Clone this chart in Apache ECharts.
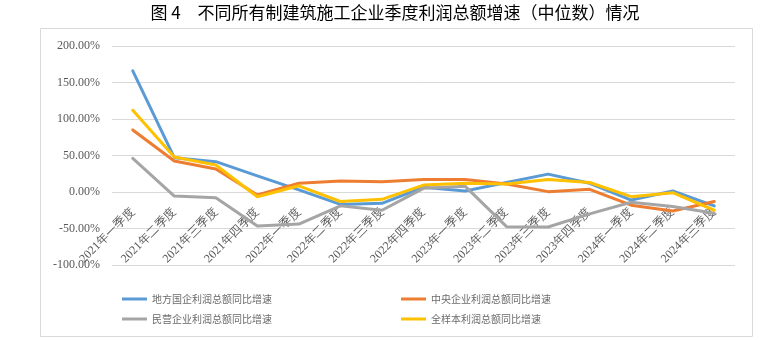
<!DOCTYPE html>
<html>
<head>
<meta charset="utf-8">
<script src="https://cdn.jsdelivr.net/npm/echarts@6/dist/echarts.min.js"></script>
<style>
html,body{margin:0;padding:0;background:#fff;}
#main{width:765px;height:340px;}
</style>
</head>
<body>
<div id="main"></div>
<script>
var titleText = '图 4　不同所有制建筑施工企业季度利润总额增速（中位数）情况';
var categories = ['2021年一季度','2021年二季度','2021年三季度','2021年四季度',
  '2022年一季度','2022年二季度','2022年三季度','2022年四季度',
  '2023年一季度','2023年二季度','2023年三季度','2023年四季度',
  '2024年一季度','2024年二季度','2024年三季度'];
var seriesNames = ['地方国企利润总额同比增速','中央企业利润总额同比增速','民营企业利润总额同比增速','全样本利润总额同比增速'];
var localSOE = [166, 47, 41.5, 22, 3, -17, -15.5, 6.5, 1.5, 13, 24.5, 12, -11, 1.4, -19];
var centralSOE = [85, 42.5, 31.5, -4, 12, 15, 14, 17, 17, 11, 0.5, 3.7, -18, -26, -13];
var privateEnt = [46, -5.5, -8, -46.5, -44, -19, -25, 5, 8, -47.5, -48, -30, -14, -20, -29];
var allSample = [112, 48, 37, -6.5, 8.5, -13, -10, 9.5, 12, 11, 17, 13, -6.4, -1, -25];
var yTicks = {min: -100, max: 200, interval: 50};

var colors = ['#5B9BD5', '#ED7D31', '#A5A5A5', '#FFC000'];
var dataList = [localSOE, centralSOE, privateEnt, allSample];

var chart = echarts.init(document.getElementById('main'), null, {renderer: 'canvas'});
var series = seriesNames.map(function (n, i) {
  return {
    name: n, type: 'line', data: dataList[i],
    showSymbol: false, symbol: 'none',
    lineStyle: {width: 3, color: colors[i], join: 'round', cap: 'round'},
    itemStyle: {color: colors[i]},
    z: 2 + i
  };
});
var serif = '"Liberation Serif", "Times New Roman", "DejaVu Serif", serif';
var legendText = {color: '#6b6b6b', fontSize: 10, fontFamily: '"Noto Sans CJK SC", sans-serif', lineHeight: 14};
chart.setOption({
  animation: false,
  graphic: [
    {type: 'rect', shape: {x: 40.5, y: 28.5, width: 712, height: 308}, style: {fill: 'none', stroke: '#d9d9d9', lineWidth: 1}, silent: true},
    {type: 'text', x: 395, y: 13, style: {text: titleText, fontSize: 17, fontFamily: '"Noto Sans CJK SC", sans-serif', fill: '#000', textAlign: 'center', textVerticalAlign: 'middle'}}
  ],
  grid: {left: 112, right: 30, top: 46, bottom: 75, containLabel: false},
  legend: [
    {data: [seriesNames[0], seriesNames[2]], orient: 'vertical', left: 122, top: 292, padding: 0, itemWidth: 25, itemHeight: 3, itemGap: 6, icon: 'rect', textStyle: legendText},
    {data: [seriesNames[1], seriesNames[3]], orient: 'vertical', left: 401, top: 292, padding: 0, itemWidth: 25, itemHeight: 3, itemGap: 6, icon: 'rect', textStyle: legendText}
  ],
  xAxis: {
    type: 'category', data: categories, boundaryGap: true, position: 'bottom', offset: -73,
    axisLine: {show: false, onZero: false},
    axisTick: {show: false},
    axisLabel: {rotate: 45, interval: 0, margin: 18, color: '#595959', fontSize: 12, fontFamily: serif}
  },
  yAxis: {
    type: 'value', min: yTicks.min, max: yTicks.max, interval: yTicks.interval,
    axisLine: {show: false}, axisTick: {show: false},
    splitLine: {lineStyle: {color: '#d9d9d9', width: 1}},
    axisLabel: {margin: 12, color: '#595959', fontSize: 12, fontFamily: serif,
      formatter: function (v) { return v.toFixed(2) + '%'; }}
  },
  series: series
});
</script>
</body>
</html>
